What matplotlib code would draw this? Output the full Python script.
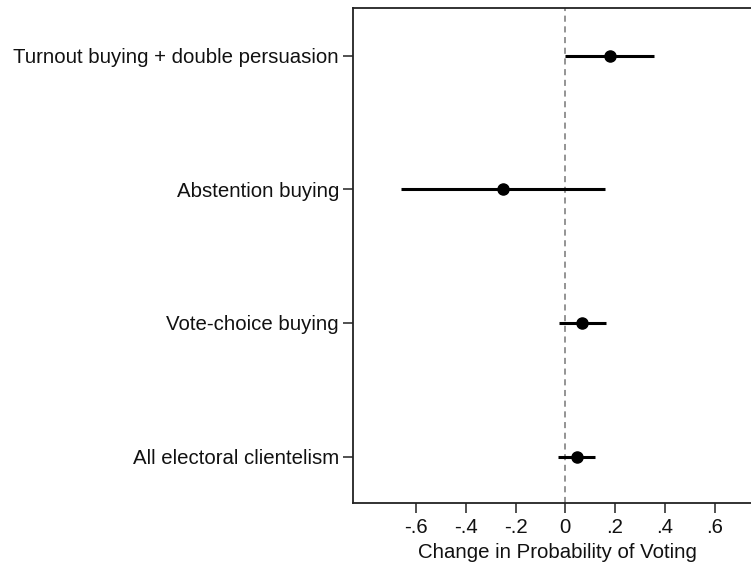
import matplotlib
matplotlib.use("Agg")
import matplotlib.pyplot as plt

# Estimated effects on turnout with 95% confidence intervals
categories = [
    "Turnout buying + double persuasion",
    "Abstention buying",
    "Vote-choice buying",
    "All electoral clientelism",
]
estimates = [0.18, -0.252, 0.068, 0.046]
ci_low = [0.0, -0.662, -0.024, -0.028]
ci_high = [0.357, 0.16, 0.164, 0.118]
xtick_values = [-0.6, -0.4, -0.2, 0.0, 0.2, 0.4, 0.6]
xtick_labels = ["-.6", "-.4", "-.2", "0", ".2", ".4", ".6"]

plt.rcParams["font.family"] = ["Liberation Sans", "DejaVu Sans"]
FS = 14.7

fig = plt.figure(figsize=(7.51, 5.65), dpi=100)
W, H = 751, 565
# the plot region runs slightly past the right edge of the canvas
ax = fig.add_axes([353 / W, 1 - 503 / H, (761 - 353) / W, (503 - 8) / H])

ypos = list(range(len(categories), 0, -1))

ax.axvline(0, color="#777777", lw=1.1, ls=(0, (4, 3)), zorder=1)
for y, lo, hi in zip(ypos, ci_low, ci_high):
    ax.plot([lo, hi], [y, y], color="black", lw=2.2, solid_capstyle="butt", zorder=2)
ax.plot(estimates, ypos, "o", color="black", ms=8, zorder=3)

ax.set_xlim(-0.854, 0.787)
ax.set_ylim(0.653, 4.357)
ax.set_yticks(ypos)
ax.set_yticklabels(categories, fontsize=FS, color="#111111")
ax.set_xticks(xtick_values)
ax.set_xticklabels(xtick_labels, fontsize=FS, color="#111111")
ax.set_xlabel("Change in Probability of Voting", fontsize=FS, labelpad=4, color="#111111")

ax.spines["right"].set_visible(False)
for s in ("left", "bottom", "top"):
    ax.spines[s].set_linewidth(1.3)
    ax.spines[s].set_color("#222222")
ax.tick_params(axis="both", length=7, width=1.2, color="#333333")
ax.tick_params(axis="y", pad=3)
ax.tick_params(axis="x", pad=4)

fig.savefig("out.png", dpi=100)
